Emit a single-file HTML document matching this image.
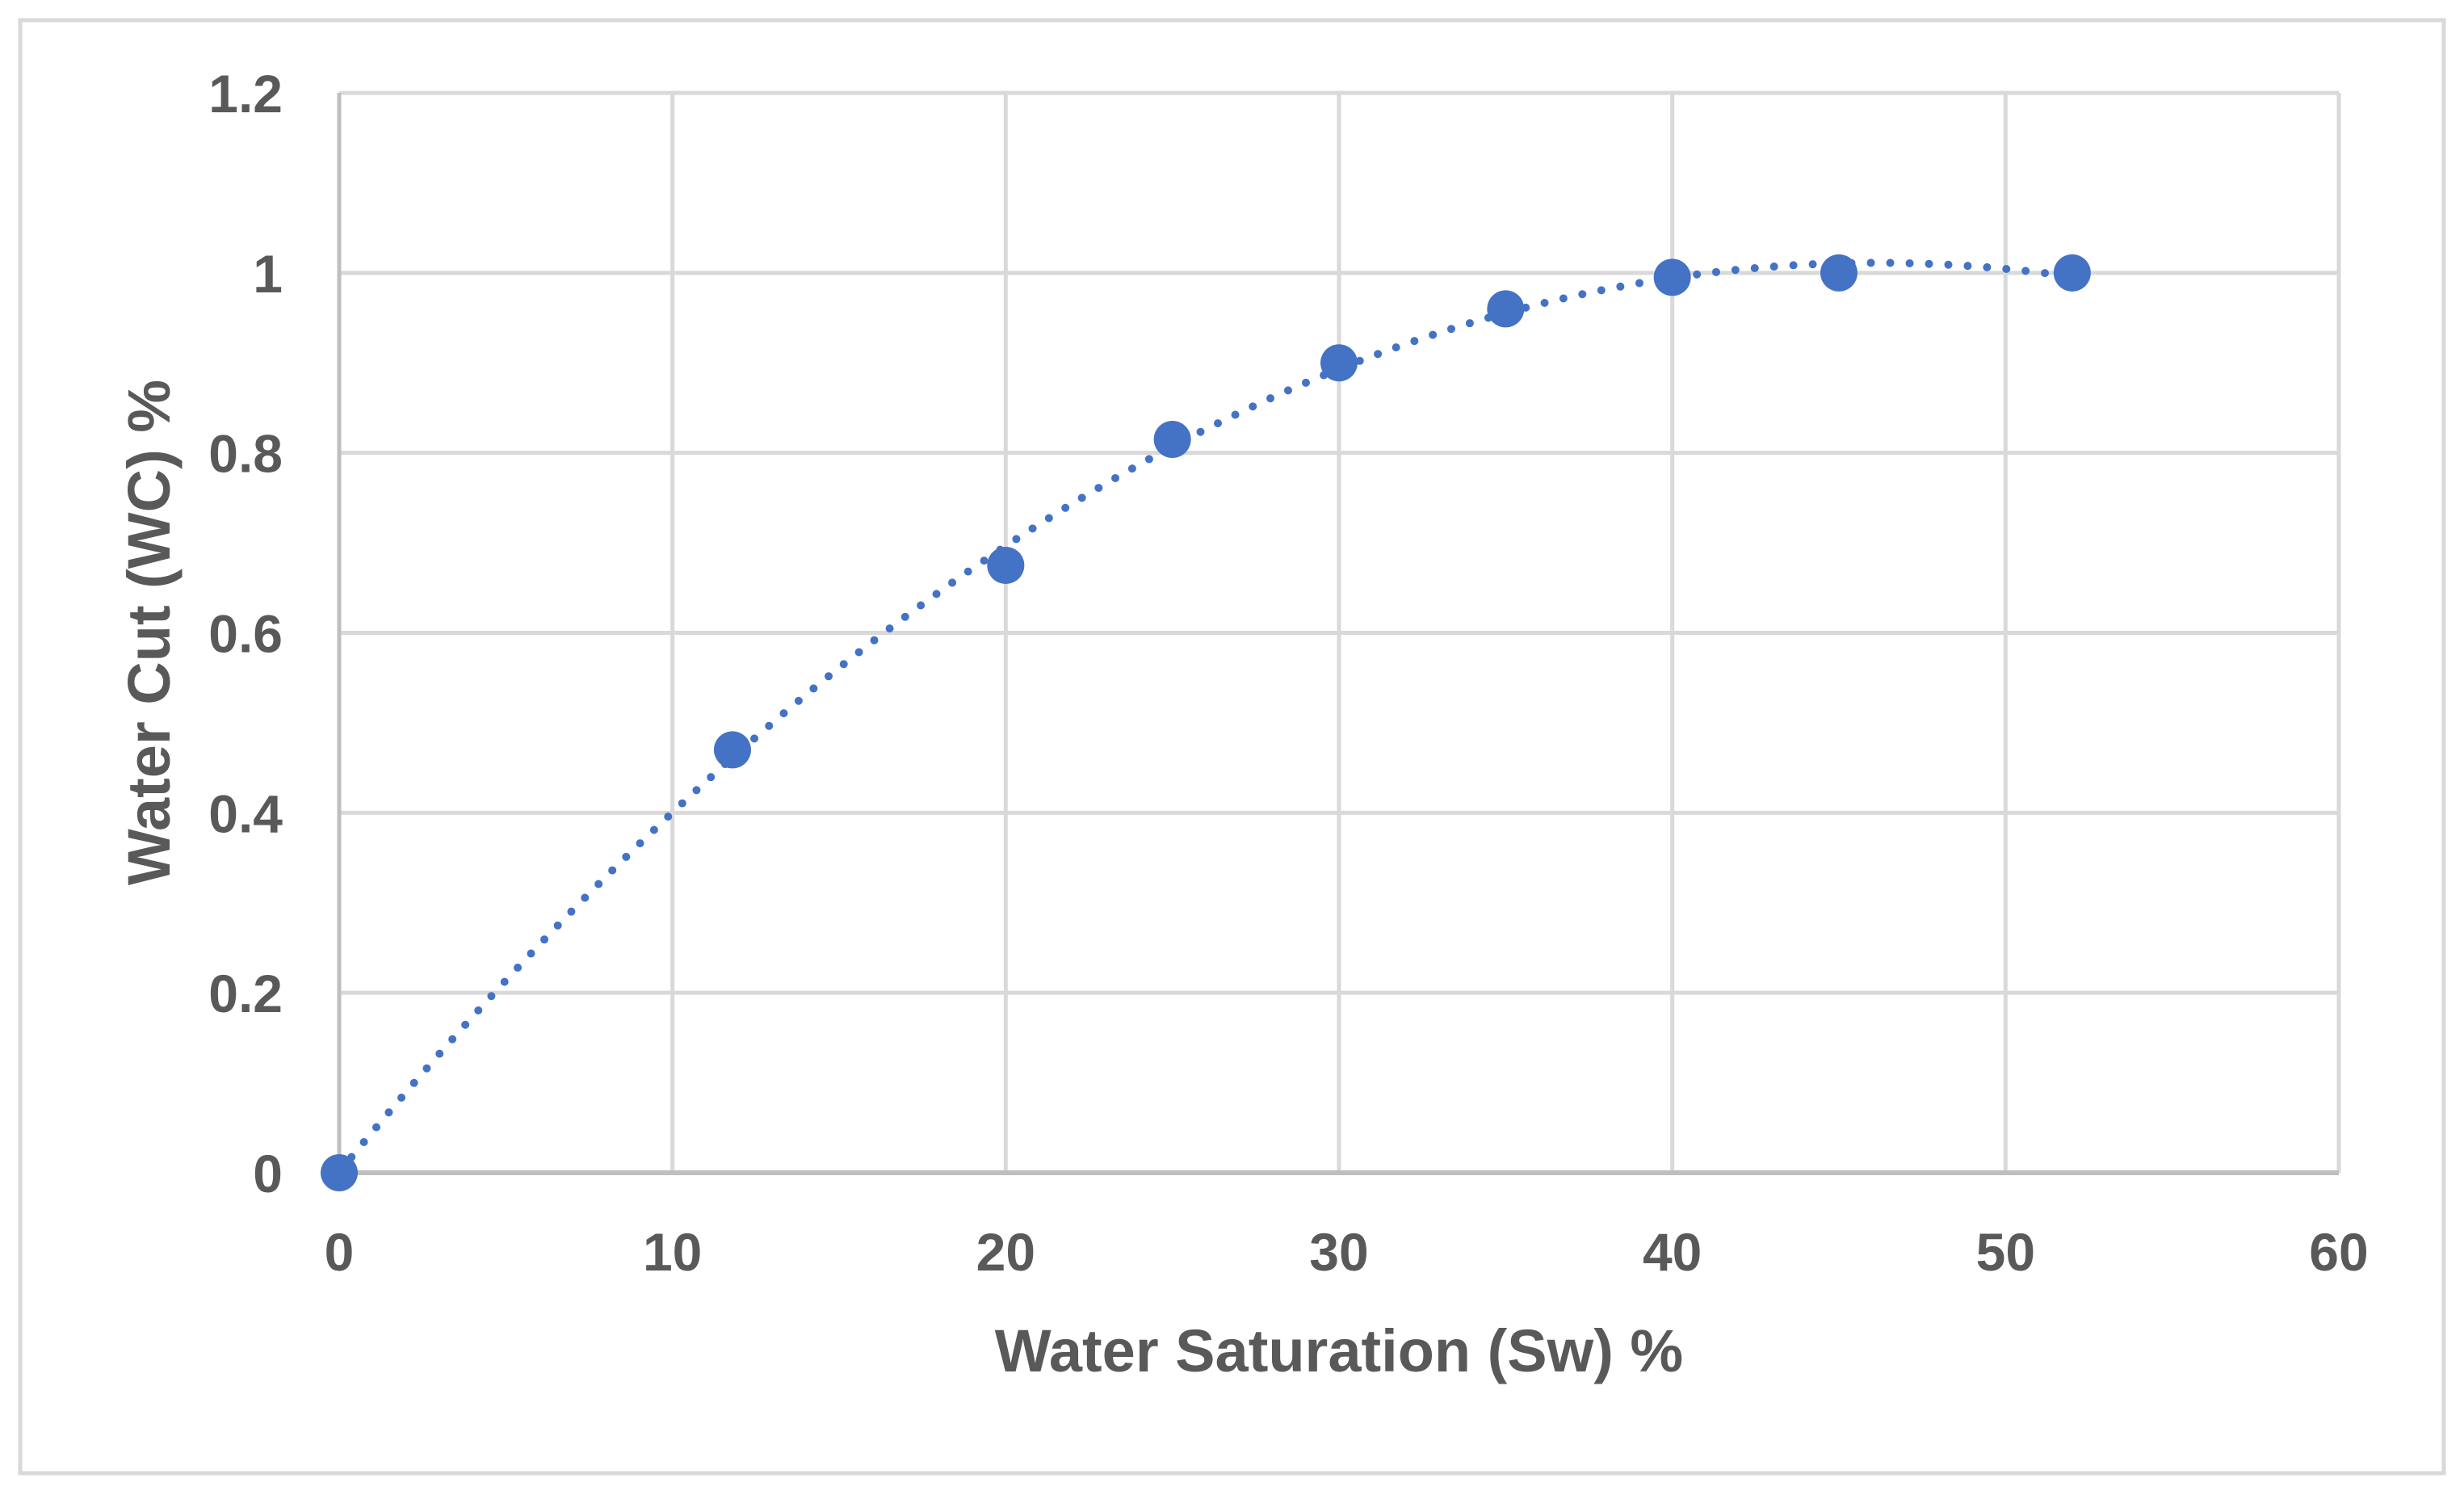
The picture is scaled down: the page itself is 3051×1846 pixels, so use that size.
<!DOCTYPE html>
<html><head><meta charset="utf-8"><style>
html,body{margin:0;padding:0;background:#fff;}
svg{display:block;}
text{font-family:"Liberation Sans",sans-serif;font-weight:bold;fill:#595959;}
</style></head><body>
<svg id="chart" width="3051" height="1846" viewBox="0 0 3051 1846">
<rect x="25" y="25" width="3001" height="1799" fill="#fff" stroke="#d9d9d9" stroke-width="5"/>
<g id="grid"></g>
<g id="axes"></g>
<g id="trend"></g>
<g id="pts"></g>
<g id="labels"></g>
<text x="1658" y="1698" font-size="74" text-anchor="middle">Water Saturation (Sw) %</text>
<text x="0" y="0" font-size="74" text-anchor="middle" transform="translate(210,783) rotate(-90)">Water Cut (WC) %</text>
</svg>
<script>
const xs = [0, 11.8, 20, 25, 30, 35, 40, 45, 52];
const ys = [0, 0.47, 0.675, 0.815, 0.9, 0.96, 0.995, 1.0, 1.0];
const xTicks = [0, 10, 20, 30, 40, 50, 60];
const yTicks = [0, 0.2, 0.4, 0.6, 0.8, 1, 1.2];
const yTickLabels = ["0", "0.2", "0.4", "0.6", "0.8", "1", "1.2"];

const NS = "http://www.w3.org/2000/svg";
const L = 420, R = 2896, T = 115, B = 1452;
const sx = v => L + (v - 0) / 60 * (R - L);
const sy = v => B - (v - 0) / 1.2 * (B - T);
function mk(tag, attrs, parent) {
  const e = document.createElementNS(NS, tag);
  for (const k in attrs) e.setAttribute(k, attrs[k]);
  parent.appendChild(e);
  return e;
}
const grid = document.getElementById('grid');
const labels = document.getElementById('labels');
xTicks.forEach((t, i) => {
  if (t !== 0) {
    const l = mk('line', {x1: sx(t), x2: sx(t), y1: T, y2: B, stroke: '#d9d9d9', 'stroke-width': 5}, grid);
    
    
  }
  const tx = mk('text', {x: sx(t), y: 1573, 'font-size': 66, 'text-anchor': 'middle'}, labels);
  tx.textContent = String(t);
  
  
});
yTicks.forEach((t, i) => {
  if (t !== 0) {
    const l = mk('line', {x1: L, x2: R, y1: sy(t), y2: sy(t), stroke: '#d9d9d9', 'stroke-width': 5}, grid);
    
    
  }
  const tx = mk('text', {x: 350, y: sy(t) + 24, 'font-size': 66, 'text-anchor': 'end'}, labels);
  tx.textContent = yTickLabels[i];
  
  
});
const axes = document.getElementById('axes');
const ya = mk('line', {x1: L, x2: L, y1: T, y2: B, stroke: '#bfbfbf', 'stroke-width': 5}, axes);


const xa = mk('line', {x1: L, x2: R, y1: B, y2: B, stroke: '#bfbfbf', 'stroke-width': 6}, axes);



// cubic least-squares trendline derived from the data
function solve(A, b) {
  const n = b.length;
  for (let i = 0; i < n; i++) {
    let p = i;
    for (let r = i + 1; r < n; r++) if (Math.abs(A[r][i]) > Math.abs(A[p][i])) p = r;
    [A[i], A[p]] = [A[p], A[i]]; [b[i], b[p]] = [b[p], b[i]];
    for (let r = i + 1; r < n; r++) {
      const f = A[r][i] / A[i][i];
      for (let c = i; c < n; c++) A[r][c] -= f * A[i][c];
      b[r] -= f * b[i];
    }
  }
  const x = new Array(n).fill(0);
  for (let i = n - 1; i >= 0; i--) {
    let s = b[i];
    for (let c = i + 1; c < n; c++) s -= A[i][c] * x[c];
    x[i] = s / A[i][i];
  }
  return x;
}
const deg = 3;
const A = [], bv = [];
for (let i = 0; i <= deg; i++) {
  A.push([]);
  for (let j = 0; j <= deg; j++) A[i].push(xs.reduce((s, x) => s + Math.pow(x / 10, i + j), 0));
  bv.push(xs.reduce((s, x, k) => s + ys[k] * Math.pow(x / 10, i), 0));
}
const coef = solve(A, bv);
const f = x => coef.reduce((s, c, i) => s + c * Math.pow(x / 10, i), 0);
let d = '';
const x0 = xs[0], x1 = xs[xs.length - 1];
for (let i = 0; i <= 200; i++) {
  const x = x0 + (x1 - x0) * i / 200;
  d += (i ? 'L' : 'M') + sx(x).toFixed(1) + ' ' + sy(f(x)).toFixed(1);
}
const tr = mk('path', {d: d, fill: 'none', stroke: '#4472c4', 'stroke-width': 10, 'stroke-linecap': 'round', 'stroke-dasharray': '0 24'}, document.getElementById('trend'));



const pts = document.getElementById('pts');
xs.forEach((x, i) => {
  const c = mk('circle', {cx: sx(x), cy: sy(ys[i]), r: 23, fill: '#4472c4'}, pts);
  
  
});
</script>
</body></html>
